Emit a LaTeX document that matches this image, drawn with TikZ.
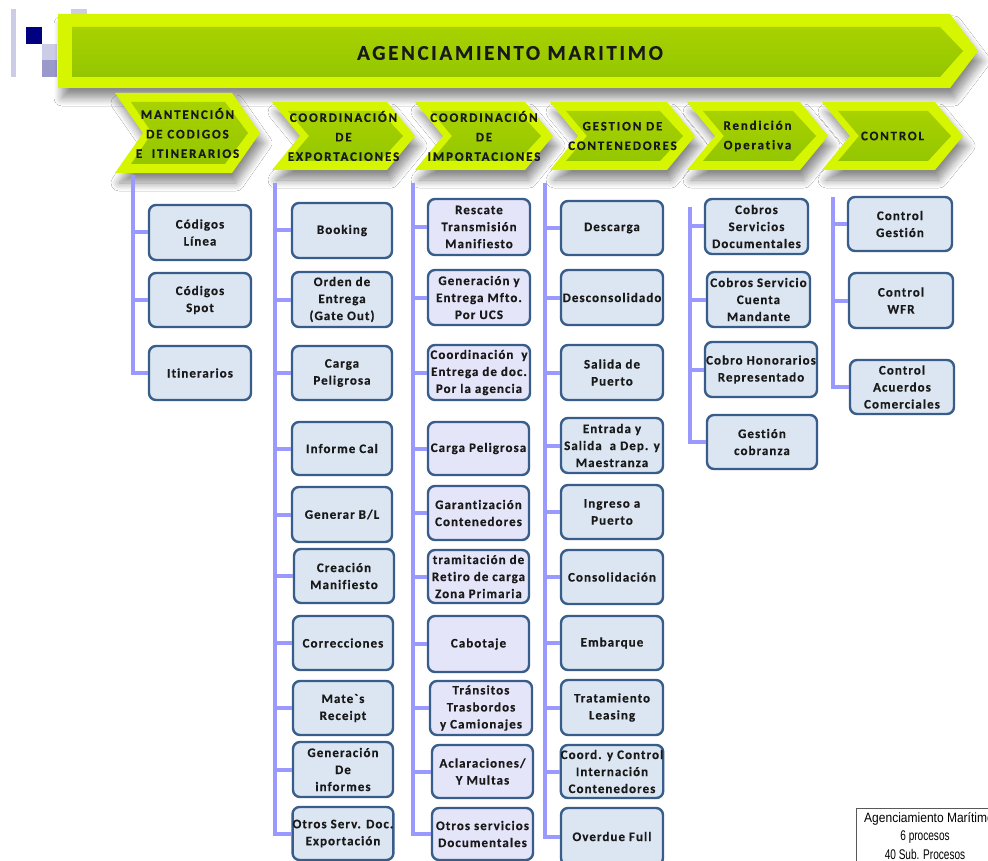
\documentclass[tikz,border=0pt]{standalone}
\usepackage{fontspec}
\setmainfont{Carlito}
\newfontfamily\bxf[LetterSpace=8,Ligatures=NoCommon,FakeBold=0.4]{Carlito}
\newfontfamily\chf[LetterSpace=14,Ligatures=NoCommon,FakeBold=0.4]{Carlito}
\newfontfamily\ttlf[LetterSpace=12.5,Ligatures=NoCommon,FakeBold=0.4]{Carlito}
\newfontfamily\legA[FakeStretch=0.89]{Liberation Sans}
\newfontfamily\legB[FakeStretch=0.72]{Liberation Sans}
\usetikzlibrary{shadows.blur}

\definecolor{boxfill}{RGB}{220,230,242}
\definecolor{impfill}{RGB}{229,229,250}
\definecolor{boxline}{RGB}{56,93,138}
\definecolor{connc}{RGB}{153,153,255}
\definecolor{bevel}{RGB}{214,245,0}
\definecolor{facetop}{RGB}{168,210,0}
\definecolor{facebot}{RGB}{148,198,0}
\definecolor{navy}{RGB}{0,0,128}
\definecolor{lav}{RGB}{204,204,230}
\definecolor{lavmid}{RGB}{153,153,204}

\tikzset{
  box/.style={draw=boxline, line width=2.4pt, rounded corners=7pt, fill=boxfill,
    align=center, inner sep=0pt, text=black!90,
    font=\bxf\bfseries\fontsize{13}{17}\selectfont},
  imp/.style={box, fill=impfill},
  connline/.style={draw=connc, line width=4pt},
  shad/.style={blur shadow={shadow xshift=4pt, shadow yshift=-10pt,
    shadow blur radius=8pt, shadow opacity=45, shadow blur steps=10}},
  chevtext/.style={align=center, inner sep=0pt, text=black!90,
    font=\chf\bfseries\fontsize{13}{19.5}\selectfont},
  titletext/.style={inner sep=0pt, text=black!90,
    font=\ttlf\bfseries\fontsize{21}{24}\selectfont},
}

% name, x1, y1, x2, y2, text  (optional style)
\newcommand\mybox[7][box]{%
  \node[#1, minimum width={(#5)-(#3)}, minimum height={(#6)-(#4)}] (#2)
    at ({((#3)+(#5))/2},{((#4)+(#6))/2}) {#7};}

% name, L, R, T, B, text
\newcommand\chev[6]{%
  \path[shad, fill=bevel] (#2,#4) -- ({#3-28},#4) -- (#3,{(#4+#5)/2})
    -- ({#3-28},#5) -- (#2,#5) -- ({#2+28},{(#4+#5)/2}) -- cycle;
  \path[top color=facetop, bottom color=facebot]
    ({#2+16},{#4+9}) -- ({#3-35},{#4+9}) -- ({#3-12},{(#4+#5)/2})
    -- ({#3-35},{#5-9}) -- ({#2+16},{#5-9}) -- ({#2+37},{(#4+#5)/2}) -- cycle;
  \node[chevtext] (#1) at ({(#2+#3)/2},{(#4+#5)/2}) {#6};}

\begin{document}
\begin{tikzpicture}[x=1pt,y=-1pt]
\useasboundingbox (0,0) rectangle (988,861);
\fill[white] (0,0) rectangle (988,861);

% corner decoration
\fill[lav] (11,9) rectangle (16,77);
\fill[lav] (71,9) rectangle (87,20);
\fill[navy] (26,27) rectangle (42,44);
\fill[lav] (42,44) rectangle (57,60);
\fill[lavmid] (42,60) rectangle (57,77);

% main banner
\path[shad, fill=bevel] (58,14) -- (950,14) -- (978,51) -- (950,88) -- (58,88) -- cycle;
\path[top color=facetop, bottom color=facebot] (72,27) -- (940,27) -- (963,51) -- (940,77) -- (72,77) -- cycle;
\node[titletext] (title) at (510,53) {AGENCIAMIENTO MARITIMO};

% process chevrons
\chev{p1}{115}{260}{93}{173}{MANTENCIÓN\\DE CODIGOS\\E\ \ ITINERARIOS}
\chev{p2}{272}{415}{102}{170}{COORDINACIÓN\\DE\\EXPORTACIONES}
\chev{p3}{415}{553}{102}{170}{COORDINACIÓN\\DE\\IMPORTACIONES}
\chev{p4}{550}{695}{102}{170}{GESTION DE\\CONTENEDORES}
\chev{p5}{687}{828}{102}{170}{Rendición\\Operativa}
\chev{p6}{822}{963}{102}{170}{CONTROL}

% trunk tops
\coordinate (c1) at (133,175);
\coordinate (c2) at (275,183);
\coordinate (c3) at (413,183);
\coordinate (c4) at (545,183);
\coordinate (c5) at (690,207);
\coordinate (c6) at (833,197);

% column 1
\mybox{b11}{149}{205}{251}{260}{Códigos\\Línea}
\mybox{b12}{149}{273}{251}{327}{Códigos\\Spot}
\mybox{b13}{149}{346}{251}{400}{Itinerarios}

% column 2
\mybox{b21}{292}{203}{392}{258}{Booking}
\mybox{b22}{292}{272}{392}{327}{Orden de\\Entrega\\(Gate Out)}
\mybox{b23}{292}{346}{392}{400}{Carga\\Peligrosa}
\mybox{b24}{292}{422}{392}{475}{Informe Cal}
\mybox{b25}{292}{487}{392}{542}{Generar B/L}
\mybox{b26}{294}{549}{394}{603}{Creación\\Manifiesto}
\mybox{b27}{293}{616}{393}{670}{Correcciones}
\mybox{b28}{293}{681}{393}{735}{Mate`s\\Receipt}
\mybox{b29}{293}{742}{393}{797}{Generación\\De\\informes}
\mybox{b2a}{293}{807}{393}{860}{Otros Serv. Doc.\\Exportación}

% column 3
\mybox[imp]{b31}{428}{199}{530}{255}{Rescate\\Transmisión\\Manifiesto}
\mybox[imp]{b32}{428}{270}{530}{325}{Generación y\\Entrega Mfto.\\Por UCS}
\mybox[imp]{b33}{428}{345}{530}{400}{Coordinación\ \ y\\Entrega de doc.\\Por la agencia}
\mybox[imp]{b34}{428}{422}{529}{475}{Carga Peligrosa}
\mybox[imp]{b35}{428}{486}{529}{540}{Garantización\\Contenedores}
\mybox[imp]{b36}{428}{550}{529}{603}{tramitación de\\Retiro de carga\\Zona Primaria}
\mybox[imp]{b37}{428}{616}{529}{672}{Cabotaje}
\mybox[imp]{b38}{430}{681}{532}{735}{Tránsitos\\Trasbordos\\y Camionajes}
\mybox[imp]{b39}{432}{745}{533}{798}{Aclaraciones/\\Y Multas}
\mybox[imp]{b3a}{432}{808}{533}{860}{Otros servicios\\Documentales}

% column 4
\mybox{b41}{561}{201}{663}{255}{Descarga}
\mybox{b42}{561}{270}{663}{325}{Desconsolidado}
\mybox{b43}{561}{345}{663}{400}{Salida de\\Puerto}
\mybox{b44}{561}{418}{663}{473}{Entrada y\\Salida\ \ a Dep. y\\Maestranza}
\mybox{b45}{561}{485}{663}{539}{Ingreso a\\Puerto}
\mybox{b46}{561}{550}{663}{604}{Consolidación}
\mybox{b47}{561}{616}{663}{670}{Embarque}
\mybox{b48}{561}{680}{663}{735}{Tratamiento\\Leasing}
\mybox{b49}{561}{745}{663}{798}{Coord. y Control\\Internación\\Contenedores}
\mybox{b4a}{561}{808}{663}{865}{Overdue Full}

% column 5
\mybox{b51}{705}{199}{808}{254}{Cobros\\Servicios\\Documentales}
\mybox{b52}{707}{272}{810}{327}{Cobros Servicio\\Cuenta\\Mandante}
\mybox{b53}{705}{342}{817}{397}{Cobro Honorarios\\Representado}
\mybox{b54}{707}{415}{817}{469}{Gestión\\cobranza}

% column 6
\mybox{b61}{848}{197}{952}{251}{Control\\Gestión}
\mybox{b62}{849}{273}{953}{328}{Control\\WFR}
\mybox{b63}{850}{360}{954}{414}{Control\\Acuerdos\\Comerciales}

% connectors
\foreach \b in {b11,b12,b13} \draw[connline] (c1) |- (\b.west);
\foreach \b in {b21,b22,b23,b24,b25,b26,b27,b28,b29,b2a} \draw[connline] (c2) |- (\b.west);
\foreach \b in {b31,b32,b33,b34,b35,b36,b37,b38,b39,b3a} \draw[connline] (c3) |- (\b.west);
\foreach \b in {b41,b42,b43,b44,b45,b46,b47,b48,b49,b4a} \draw[connline] (c4) |- (\b.west);
\foreach \b in {b51,b52,b53,b54} \draw[connline] (c5) |- (\b.west);
\foreach \b in {b61,b62,b63} \draw[connline] (c6) |- (\b.west);

% legend
\draw[draw=black!65, line width=0.8pt] (856,808) rectangle (1000,880);
\node[align=center, inner sep=0pt, font=\fontsize{14}{18.5}\selectfont] (legend) at (925,836)
  {{\legA\fontsize{13.5}{18.5}\selectfont\hspace*{8pt}Agenciamiento Marítimo}\\{\legB 6 procesos}\\{\legB 40 Sub. Procesos}};
\end{tikzpicture}
\end{document}
